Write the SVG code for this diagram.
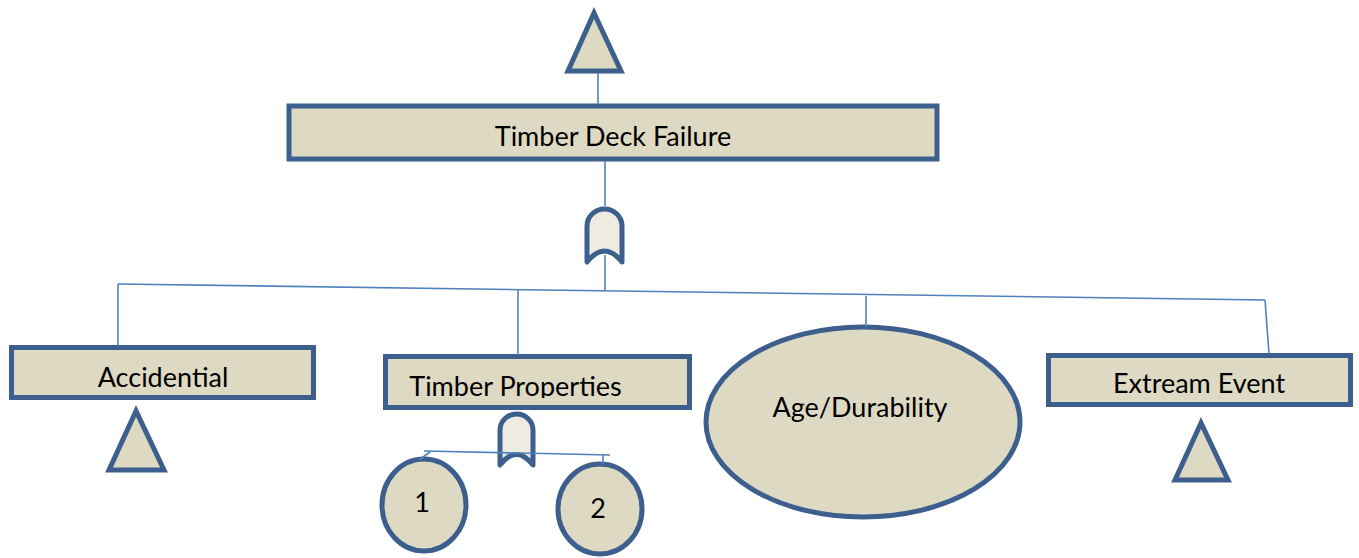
<svg xmlns="http://www.w3.org/2000/svg" width="1359" height="558" viewBox="0 0 1359 558">
  <defs>
    <style>
      .box { fill: #ddd9c3; stroke: #3c5f8d; stroke-width: 5; }
      .gate { fill: #eeece1; stroke: #3c5f8d; stroke-width: 5; stroke-linejoin: round; }
      .tri { fill: #ddd9c3; stroke: #3c5f8d; stroke-width: 5; stroke-linejoin: miter; }
      .wire { fill: none; stroke: #4f81bd; stroke-width: 1.6; }
      .lbl { font-family: Lato, "Open Sans", "Liberation Sans", sans-serif; font-size: 27px; fill: #000; text-anchor: middle; }
    </style>
    <clipPath id="tpClip">
      <rect x="386" y="358" width="302" height="40"/>
    </clipPath>
  </defs>
  <rect width="1359" height="558" fill="#ffffff"/>

  <!-- top transfer triangle -->
  <g id="transfer-top">
    <polygon class="tri" points="594,13 568,71 621,71"/>
  </g>

  <!-- top event -->
  <g id="timber-deck-failure">
    <rect class="box" x="289" y="106" width="648" height="53"/>
    <text class="lbl" x="613" y="146">Timber Deck Failure</text>
  </g>

  <!-- OR gate under top event -->
  <g id="or-gate-main">
    <path class="gate" d="M587,262 V226 A17.5,17 0 0 1 622,226 V262 Q604.5,240 587,262 Z"/>
  </g>

  <g id="accidential">
    <rect class="box" x="11.5" y="347.5" width="302" height="50"/>
    <text class="lbl" x="163" y="387">Accidential</text>
    <polygon class="tri" points="136,411 109,470 164,470"/>
  </g>

  <g id="timber-properties">
    <rect class="box" x="385.5" y="356.5" width="304" height="51"/>
    <text class="lbl" x="515.5" y="396" clip-path="url(#tpClip)">Timber Properties</text>
  </g>

  <!-- OR gate under Timber Properties -->
  <g id="or-gate-properties">
    <path class="gate" d="M500,465 V430 A16.5,16 0 0 1 533,430 V465 Q516.5,444 500,465 Z"/>
  </g>

  <g id="basic-1">
    <ellipse class="box" cx="424" cy="505" rx="42" ry="46"/>
    <text class="lbl" x="422" y="512">1</text>
  </g>

  <g id="basic-2">
    <ellipse class="box" cx="600" cy="509" rx="42" ry="45"/>
    <text class="lbl" x="598" y="518">2</text>
  </g>

  <g id="age-durability">
    <ellipse class="box" cx="863" cy="422" rx="157" ry="95"/>
    <text class="lbl" x="860" y="417">Age/Durability</text>
  </g>

  <g id="extream-event">
    <rect class="box" x="1048.5" y="355.5" width="302" height="49"/>
    <text class="lbl" x="1199" y="393">Extream Event</text>
    <polygon class="tri" points="1201,423 1175,480 1228,480"/>
  </g>

  <!-- connectors -->
  <g id="connectors">
    <line class="wire" x1="598" y1="73" x2="598" y2="104"/>
    <line class="wire" x1="605" y1="161" x2="605" y2="206"/>
    <line class="wire" x1="605" y1="255" x2="605" y2="291"/>
    <line class="wire" x1="118" y1="284" x2="1265" y2="300"/>
    <line class="wire" x1="118" y1="284" x2="118" y2="346"/>
    <line class="wire" x1="518" y1="289" x2="518" y2="355"/>
    <line class="wire" x1="866" y1="296" x2="866" y2="327"/>
    <line class="wire" x1="1265" y1="300" x2="1269" y2="354"/>
    <line class="wire" x1="424" y1="451" x2="610" y2="455"/>
    <line class="wire" x1="430" y1="452" x2="419" y2="460"/>
    <line class="wire" x1="603" y1="455" x2="603" y2="465"/>
  </g>
</svg>
